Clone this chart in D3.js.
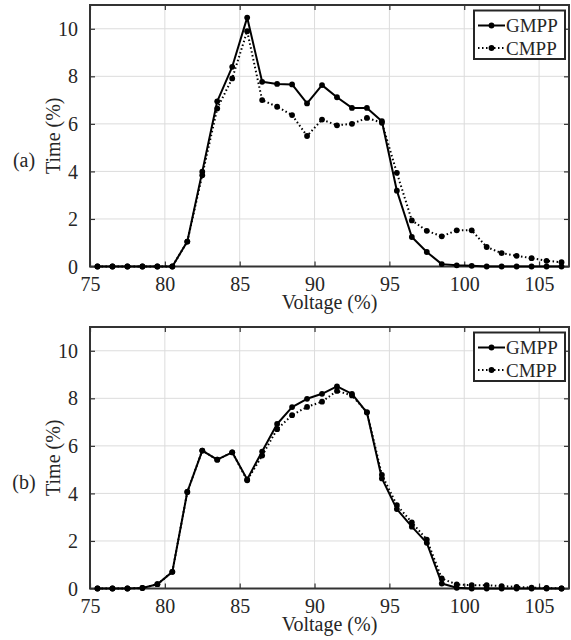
<!DOCTYPE html>
<html>
<head>
<meta charset="utf-8">
<script src="https://cdn.jsdelivr.net/npm/d3@7"></script>
<style>
  html, body { margin: 0; padding: 0; background: #fff; }
  svg { display: block; }
</style>
</head>
<body>
<svg id="chart" width="571" height="640"></svg>
<script>
// ---- data ----
const voltage = [75.5,76.5,77.5,78.5,79.5,80.5,81.5,82.5,83.5,84.5,85.5,86.5,87.5,88.5,89.5,90.5,91.5,92.5,93.5,94.5,95.5,96.5,97.5,98.5,99.5,100.5,101.5,102.5,103.5,104.5,105.5,106.5];

const gmppA = [0,0,0,0,0,0,1.05,3.99,6.95,8.40,10.47,7.77,7.68,7.66,6.86,7.63,7.12,6.67,6.67,6.11,3.19,1.24,0.61,0.10,0.05,0.03,0,0,0,0,0,0];
const cmppA = [0,0,0,0,0,0,1.05,3.84,6.65,7.91,9.90,7.00,6.72,6.37,5.49,6.18,5.94,6.00,6.25,6.05,3.94,1.94,1.50,1.27,1.52,1.52,0.82,0.56,0.45,0.35,0.24,0.18];

const gmppB = [0,0,0,0.02,0.18,0.70,4.06,5.80,5.42,5.73,4.59,5.76,6.92,7.63,7.98,8.19,8.50,8.19,7.40,4.63,3.34,2.60,1.92,0.21,0.03,0,0,0,0,0,0,0];
const cmppB = [0,0,0,0.02,0.18,0.70,4.06,5.80,5.42,5.73,4.55,5.59,6.70,7.29,7.64,7.86,8.31,8.12,7.42,4.78,3.51,2.78,2.06,0.42,0.17,0.14,0.14,0.10,0.07,0.04,0.02,0];

const xTicks = [75,80,85,90,95,100,105];
const yTicks = [0,2,4,6,8,10];
const seriesNames = ["GMPP","CMPP"];
const panelLabels = ["(a)","(b)"];
const xTitle = "Voltage (%)";
const yTitle = "Time (%)";

// ---- layout ----
const FONT = "'Liberation Serif', 'Times New Roman', Times, 'DejaVu Serif', 'Noto Serif', serif";
const TXT = "#262626";
const svg = d3.select("#chart");
const left = 90, right = 569, plotH = 261.5;
const panelTops = [5, 327];

const x = d3.scaleLinear().domain([75, 107]).range([left, right]);

function styleText(sel, size) {
  return sel.style("font-family", FONT).style("font-size", size + "px").style("fill", TXT);
}

function drawPanel(top, gData, cData, label) {
  const bottom = top + plotH;
  const y = d3.scaleLinear().domain([0, 11]).range([bottom, top]);
  const g = svg.append("g");

  // grid
  g.append("g").selectAll("line").data(xTicks).join("line")
    .attr("x1", d => x(d)).attr("x2", d => x(d))
    .attr("y1", top).attr("y2", bottom)
    .attr("stroke", "#dcdcdc").attr("stroke-width", 1);
  g.append("g").selectAll("line").data(yTicks).join("line")
    .attr("x1", left).attr("x2", right)
    .attr("y1", d => y(d)).attr("y2", d => y(d))
    .attr("stroke", "#dcdcdc").attr("stroke-width", 1);

  // axes (ticks inside)
  const tickLen = 5;
  const xAxisB = d3.axisBottom(x).tickValues(xTicks).tickSize(-tickLen).tickPadding(tickLen + 8);
  const gxb = g.append("g").attr("transform", `translate(0,${bottom})`).call(xAxisB);
  gxb.attr("font-family", null).attr("font-size", null);
  gxb.select(".domain").remove();
  gxb.selectAll("line").attr("stroke", "#333").attr("stroke-width", 1.2);
  styleText(gxb.selectAll("text"), 20).attr("dy", null).attr("y", 24);

  const xAxisT = d3.axisTop(x).tickValues(xTicks).tickSize(-tickLen).tickFormat("");
  const gxt = g.append("g").attr("transform", `translate(0,${top})`).call(xAxisT);
  gxt.select(".domain").remove();
  gxt.selectAll("line").attr("stroke", "#333").attr("stroke-width", 1.2);

  const yAxisL = d3.axisLeft(y).tickValues(yTicks).tickSize(-tickLen).tickPadding(tickLen + 7);
  const gyl = g.append("g").attr("transform", `translate(${left},0)`).call(yAxisL);
  gyl.attr("font-family", null).attr("font-size", null);
  gyl.select(".domain").remove();
  gyl.selectAll("line").attr("stroke", "#333").attr("stroke-width", 1.2);
  styleText(gyl.selectAll("text"), 20).attr("dy", "0.33em");

  const yAxisR = d3.axisRight(y).tickValues(yTicks).tickSize(-tickLen).tickFormat("");
  const gyr = g.append("g").attr("transform", `translate(${right},0)`).call(yAxisR);
  gyr.select(".domain").remove();
  gyr.selectAll("line").attr("stroke", "#333").attr("stroke-width", 1.2);

  // frame
  g.append("rect").attr("x", left).attr("y", top).attr("width", right - left).attr("height", plotH)
    .attr("fill", "none").attr("stroke", "#333").attr("stroke-width", 2);

  // lines
  const line = d3.line().x((d, i) => x(voltage[i])).y(d => y(d));
  const series = [
    { data: cData, dash: "1.5,2.5" },
    { data: gData, dash: null }
  ];
  series.forEach(s => {
    g.append("path").datum(s.data).attr("d", line)
      .attr("fill", "none").attr("stroke", "#000").attr("stroke-width", 2)
      .attr("stroke-linejoin", "round")
      .attr("stroke-dasharray", s.dash);
    g.append("g").selectAll("circle").data(s.data).join("circle")
      .attr("cx", (d, i) => x(voltage[i])).attr("cy", d => y(d)).attr("r", 2.9)
      .attr("fill", "#000");
  });

  // legend
  const lx0 = 474, lx1 = 565, ly0 = top + 5.5, ly1 = top + 54;
  g.append("rect").attr("x", lx0).attr("y", ly0).attr("width", lx1 - lx0).attr("height", ly1 - ly0)
    .attr("fill", "#fff").attr("stroke", "#262626").attr("stroke-width", 2);
  const rows = [
    { name: seriesNames[0], dash: null, cy: top + 20.5 },
    { name: seriesNames[1], dash: "1.5,2.5", cy: top + 43 }
  ];
  rows.forEach(r => {
    g.append("line").attr("x1", 478).attr("x2", 505).attr("y1", r.cy).attr("y2", r.cy)
      .attr("stroke", "#000").attr("stroke-width", 2).attr("stroke-dasharray", r.dash);
    g.append("circle").attr("cx", 491.5).attr("cy", r.cy).attr("r", 2.9).attr("fill", "#000");
    styleText(g.append("text").attr("x", 506).attr("y", r.cy + 6.5), 19).text(r.name);
  });

  // titles
  styleText(g.append("text").attr("x", (left + right) / 2).attr("y", bottom + 42)
    .attr("text-anchor", "middle"), 20).text(xTitle);
  const cy = (top + bottom) / 2;
  styleText(g.append("text").attr("transform", `translate(60,${cy}) rotate(-90)`)
    .attr("text-anchor", "middle"), 20).text(yTitle);
  styleText(g.append("text").attr("x", 24).attr("y", cy + 25 + 6.5)
    .attr("text-anchor", "middle"), 20).text(label);
}

drawPanel(panelTops[0], gmppA, cmppA, panelLabels[0]);
drawPanel(panelTops[1], gmppB, cmppB, panelLabels[1]);
</script>
</body>
</html>
